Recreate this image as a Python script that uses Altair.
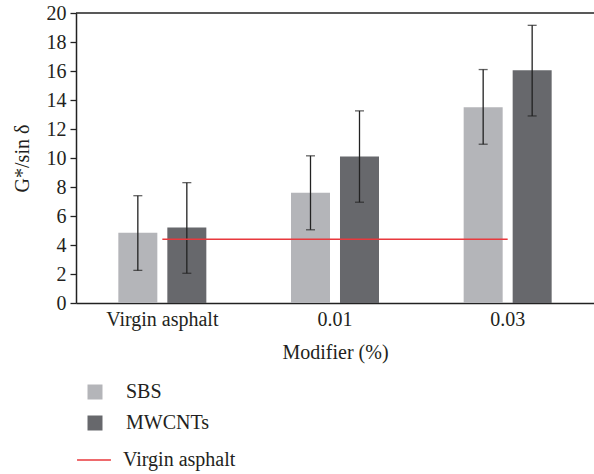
import altair as alt
import pandas as pd

# Rutting parameter by modifier content
categories = ["Virgin asphalt", "0.01", "0.03"]
series = ["SBS", "MWCNTs"]
sbs_mean = [4.85, 7.6, 13.5]
sbs_low = [2.25, 5.05, 10.95]
sbs_high = [7.4, 10.15, 16.1]
mwcnt_mean = [5.2, 10.1, 16.05]
mwcnt_low = [2.05, 6.95, 12.9]
mwcnt_high = [8.3, 13.25, 19.15]
virgin_level = 4.4
y_ticks = [0, 2, 4, 6, 8, 10, 12, 14, 16, 18, 20]

rows = []
for i, cat in enumerate(categories):
    rows.append({"cat": cat, "series": "SBS", "v": sbs_mean[i], "lo": sbs_low[i], "hi": sbs_high[i]})
    rows.append({"cat": cat, "series": "MWCNTs", "v": mwcnt_mean[i], "lo": mwcnt_low[i], "hi": mwcnt_high[i]})
df = pd.DataFrame(rows)

ref_df = pd.DataFrame({
    "cat": [categories[0], categories[-1]],
    "v": [virgin_level, virgin_level],
    "name": ["Virgin asphalt", "Virgin asphalt"],
})
top_df = pd.DataFrame({"v": [y_ticks[-1]]})

FONT = "Liberation Serif"
FS = 20
INK = "#231f20"
X_TITLE = "Modifier (%)"
Y_TITLE = "G*/sin δ"

x_scale = alt.Scale(domain=categories, paddingInner=0, paddingOuter=0)
y_scale = alt.Scale(domain=[0, 20])
off_scale = alt.Scale(domain=series, paddingInner=0.204, paddingOuter=0.864)

x_axis = alt.Axis(labelAngle=0, ticks=False, labelPadding=6, titlePadding=13,
                  labelFont=FONT, titleFont=FONT, labelFontSize=FS, titleFontSize=FS,
                  labelColor=INK, titleColor=INK, titleFontWeight="normal")
y_axis = alt.Axis(values=y_ticks, grid=False, tickSize=6, labelOverlap=False,
                  labelPadding=4, titlePadding=14,
                  labelFont=FONT, titleFont=FONT, labelFontSize=FS, titleFontSize=FS,
                  labelColor=INK, titleColor=INK, titleFontWeight="normal")


def xcat():
    return alt.X("cat:N", scale=x_scale, sort=categories, title=X_TITLE, axis=x_axis)


def yq(field):
    return alt.Y(field, type="quantitative", scale=y_scale, title=Y_TITLE, axis=y_axis)


def xoff():
    return alt.XOffset("series:N", scale=off_scale, sort=series)


base = alt.Chart(df)

bars = base.mark_bar().encode(
    x=xcat(),
    y=yq("v"),
    xOffset=xoff(),
    color=alt.Color(
        "series:N",
        sort=series,
        scale=alt.Scale(domain=series, range=["#b4b5b9", "#67686c"]),
        legend=alt.Legend(title=None, orient="none", legendX=9, legendY=369,
                          symbolType="square", symbolSize=225, symbolStrokeWidth=0,
                          labelOffset=21, rowPadding=11, labelFont=FONT,
                          labelFontSize=FS, labelColor=INK),
    ),
)

err = base.mark_rule(color="#222222", strokeWidth=1.3).encode(
    x=xcat(), xOffset=xoff(), y=yq("lo"), y2="hi:Q",
)

cap_hi = base.mark_tick(color="#222222", thickness=1.3, size=9, orient="horizontal").encode(
    x=xcat(), xOffset=xoff(), y=yq("hi"),
)
cap_lo = base.mark_tick(color="#222222", thickness=1.3, size=9, orient="horizontal").encode(
    x=xcat(), xOffset=xoff(), y=yq("lo"),
)

ref_line = alt.Chart(ref_df).mark_line(strokeWidth=1.5).encode(
    x=xcat(),
    y=yq("v"),
    stroke=alt.Stroke(
        "name:N",
        scale=alt.Scale(domain=["Virgin asphalt"], range=["#e8393d"]),
        legend=alt.Legend(title=None, orient="none", legendX=0, legendY=429,
                          symbolType="stroke", symbolSize=1150, symbolStrokeWidth=1.5,
                          labelOffset=11, labelFont=FONT, labelFontSize=FS, labelColor=INK),
    ),
)

top_border = alt.Chart(top_df).mark_rule(color="#222222", strokeWidth=1.5).encode(
    y=yq("v")
)

chart = (
    alt.layer(bars, err, cap_hi, cap_lo, ref_line, top_border)
    .resolve_scale(color="independent", stroke="independent")
    .properties(
        width=518,
        height=290,
        autosize=alt.AutoSizeParams(type="none"),
        padding={"left": 76, "top": 13, "right": 0, "bottom": 171},
        background="white",
    )
    .configure(font=FONT)
    .configure_view(stroke=None)
    .configure_axis(
        domainColor="#222222", domainWidth=1.5, tickColor="#222222", tickWidth=1.3,
    )
)

chart.save("out.html", embed_options={"renderer": "svg", "actions": False})
